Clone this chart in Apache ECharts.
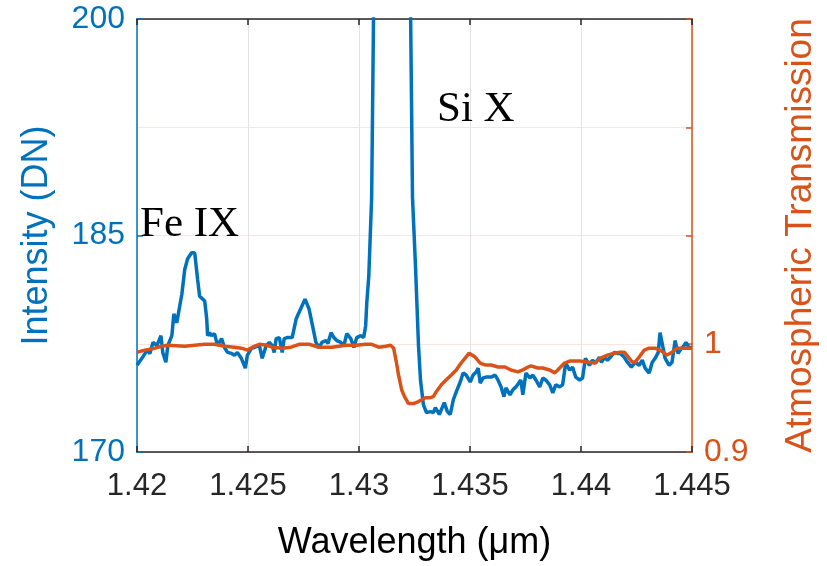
<!DOCTYPE html>
<html>
<head>
<meta charset="utf-8">
<script src="https://cdn.jsdelivr.net/npm/echarts@6/dist/echarts.min.js"></script>
<style>html,body{margin:0;padding:0;background:#fff}#c{width:827px;height:566px}</style>
</head>
<body>
<div id="c"></div>
<script>
// Wavelength (µm) and intensity (DN) of the spectrum
const blueX = [1.42000,1.42022,1.42045,1.42058,1.42072,1.42090,1.42108,1.42116,1.42130,1.42139,1.42157,1.42166,1.42179,1.42188,1.42202,1.42215,1.42228,1.42246,1.42260,1.42273,1.42282,1.42305,1.42314,1.42318,1.42327,1.42336,1.42349,1.42363,1.42381,1.42394,1.42408,1.42426,1.42439,1.42452,1.42470,1.42488,1.42497,1.42515,1.42529,1.42551,1.42564,1.42582,1.42596,1.42609,1.42618,1.42627,1.42641,1.42654,1.42663,1.42676,1.42699,1.42717,1.42739,1.42757,1.42775,1.42788,1.42806,1.42820,1.42833,1.42851,1.42860,1.42874,1.42887,1.42900,1.42918,1.42932,1.42945,1.42963,1.42977,1.42990,1.43008,1.43021,1.43030,1.43035,1.43044,1.43057,1.43066,1.43080,1.43111,1.43142,1.43178,1.43205,1.43232,1.43241,1.43254,1.43268,1.43277,1.43290,1.43304,1.43322,1.43335,1.43344,1.43362,1.43371,1.43384,1.43398,1.43411,1.43425,1.43438,1.43456,1.43469,1.43483,1.43501,1.43514,1.43528,1.43537,1.43546,1.43559,1.43572,1.43595,1.43613,1.43626,1.43640,1.43653,1.43662,1.43680,1.43693,1.43707,1.43729,1.43738,1.43752,1.43770,1.43783,1.43797,1.43814,1.43828,1.43841,1.43859,1.43873,1.43886,1.43904,1.43917,1.43931,1.43949,1.43962,1.43976,1.43994,1.44007,1.44020,1.44038,1.44052,1.44065,1.44083,1.44092,1.44106,1.44119,1.44132,1.44150,1.44164,1.44177,1.44195,1.44209,1.44227,1.44244,1.44262,1.44276,1.44289,1.44307,1.44321,1.44334,1.44348,1.44356,1.44370,1.44379,1.44397,1.44410,1.44424,1.44437,1.44446,1.44464,1.44473,1.44486,1.44500];
const intensity = [176.01,176.49,177.04,176.83,177.59,177.38,178.06,176.90,176.22,177.38,178.06,179.57,178.95,178.95,180.93,182.64,183.39,183.80,183.80,181.96,180.80,180.46,179.23,178.06,178.27,178.06,178.20,177.38,177.86,177.24,176.90,176.83,176.70,176.90,176.49,175.81,176.70,177.18,177.24,177.38,176.49,177.38,177.59,177.38,176.90,177.86,177.93,176.90,177.86,177.93,177.93,179.23,179.98,180.59,179.91,178.95,177.59,177.24,177.59,177.72,177.52,178.27,177.93,177.72,177.59,177.38,178.20,177.86,177.24,177.93,178.06,177.93,178.75,180.32,182.16,187.63,201.0,212.0,225.0,232.0,228.0,215.0,201.0,187.63,183.05,177.38,174.99,173.28,172.73,172.80,172.73,173.08,172.60,172.94,173.42,172.80,172.60,173.62,174.17,174.85,175.47,175.33,174.85,175.33,175.54,175.81,174.78,175.13,175.19,175.19,175.33,174.99,174.51,173.83,174.44,173.96,174.31,174.51,174.99,173.96,175.47,175.13,175.33,174.99,174.51,175.13,174.99,174.65,174.10,174.65,174.51,174.65,176.15,175.67,175.88,175.19,174.99,175.13,176.49,176.01,176.36,176.15,176.56,176.22,176.56,176.36,176.56,176.90,176.83,176.83,176.56,176.22,175.88,176.22,176.01,176.36,175.81,175.47,176.22,176.49,176.90,178.27,177.18,176.49,176.01,176.22,177.72,176.83,177.04,177.38,177.59,177.24,177.24];

// Wavelength (µm) and atmospheric transmission
const orangeX = [1.42000,1.42036,1.42081,1.42112,1.42139,1.42215,1.42260,1.42305,1.42349,1.42394,1.42439,1.42470,1.42497,1.42520,1.42551,1.42587,1.42609,1.42654,1.42694,1.42730,1.42775,1.42820,1.42878,1.42941,1.42986,1.43030,1.43057,1.43089,1.43120,1.43142,1.43156,1.43169,1.43178,1.43192,1.43205,1.43223,1.43245,1.43268,1.43299,1.43322,1.43335,1.43348,1.43371,1.43393,1.43416,1.43438,1.43460,1.43478,1.43496,1.43505,1.43523,1.43546,1.43568,1.43595,1.43626,1.43658,1.43684,1.43716,1.43738,1.43761,1.43774,1.43805,1.43828,1.43859,1.43882,1.43904,1.43926,1.43949,1.43994,1.44029,1.44061,1.44088,1.44119,1.44150,1.44177,1.44195,1.44213,1.44231,1.44244,1.44262,1.44285,1.44307,1.44334,1.44356,1.44388,1.44410,1.44433,1.44469,1.44500];
const transmission = [0.9922,0.9941,0.9959,0.9977,0.9986,0.9977,0.9986,0.9995,0.9995,0.9977,0.9968,0.9959,0.9941,0.9968,0.9995,0.9986,0.9968,0.9959,0.9968,0.9995,0.9995,0.9968,0.9968,0.9986,0.9986,0.9995,0.9995,0.9968,0.9977,0.9986,0.9959,0.9822,0.9712,0.9575,0.9511,0.9447,0.9447,0.9466,0.9502,0.9502,0.9511,0.9557,0.9621,0.9667,0.9712,0.9758,0.9822,0.9868,0.9913,0.9913,0.9877,0.9822,0.9804,0.9804,0.9785,0.9785,0.9758,0.9740,0.9758,0.9785,0.9795,0.9776,0.9776,0.9758,0.9731,0.9776,0.9822,0.9840,0.9840,0.9831,0.9822,0.9868,0.9895,0.9913,0.9922,0.9922,0.9877,0.9831,0.9831,0.9877,0.9941,0.9959,0.9959,0.9941,0.9895,0.9922,0.9959,0.9959,0.9959];

const rightTickLabels = {'0.9': '0.9', '1': '1'};
const annotations = [
  {text: 'Fe IX', x: 140, y: 235},
  {text: 'Si X', x: 437, y: 120}
];

const BLUE = '#0072BD', ORANGE = '#D95319', DARK = '#262626';
const FONT = 'Liberation Sans';

const chart = echarts.init(document.getElementById('c'), null, {renderer: 'canvas'});
const xCommon = {
  type: 'value', min: 1.42, max: 1.445, interval: 0.005
};
chart.setOption({
  animation: false,
  backgroundColor: '#fff',
  grid: {left: 137, right: 132, top: 19, bottom: 108, containLabel: false},
  xAxis: [
    Object.assign({}, xCommon, {
      position: 'bottom',
      name: 'Wavelength (μm)', nameLocation: 'middle', nameGap: 73,
      nameTextStyle: {color: '#000', fontSize: 36, fontFamily: FONT},
      axisLine: {show: true, onZero: false, lineStyle: {color: DARK, width: 1.5}},
      axisTick: {show: true, inside: true, length: 6, lineStyle: {color: DARK, width: 1.5}},
      axisLabel: {color: DARK, fontSize: 31, fontFamily: FONT, margin: 19,
        formatter: v => String(+v.toFixed(3))},
      splitLine: {show: true, lineStyle: {color: '#e3e3e3', width: 1}}
    }),
    Object.assign({}, xCommon, {
      position: 'top',
      axisLine: {show: true, onZero: false, lineStyle: {color: DARK, width: 1.5}},
      axisTick: {show: true, inside: true, length: 6, lineStyle: {color: DARK, width: 1.5}},
      axisLabel: {show: false},
      splitLine: {show: false}
    })
  ],
  yAxis: [
    {
      type: 'value', min: 170, max: 200, interval: 15, position: 'left',
      name: 'Intensity (DN)', nameLocation: 'middle', nameGap: 82,
      nameTextStyle: {color: BLUE, fontSize: 36, fontFamily: FONT},
      axisLine: {show: true, onZero: false, lineStyle: {color: BLUE, width: 1.5}},
      axisTick: {show: true, inside: true, length: 6, lineStyle: {color: BLUE, width: 1.5}},
      axisLabel: {color: BLUE, fontSize: 32, fontFamily: FONT, margin: 12,
        padding: [6, 0, 0, 0]},
      splitLine: {show: false}
    },
    {
      type: 'value', min: 0.9, max: 1.3, interval: 0.1, position: 'right',
      name: 'Atmospheric Transmission', nameLocation: 'middle', nameGap: 90,
      nameTextStyle: {color: ORANGE, fontSize: 37, fontFamily: FONT},
      axisLine: {show: true, onZero: false, lineStyle: {color: ORANGE, width: 1.5}},
      axisTick: {show: true, inside: true, length: 6, lineStyle: {color: ORANGE, width: 1.5}},
      axisLabel: {color: ORANGE, fontSize: 32, fontFamily: FONT, margin: 12,
        padding: [6, 0, 0, 0],
        formatter: v => rightTickLabels[String(+v.toFixed(2))] || ''},
      splitLine: {show: true, lineStyle: {color: '#fae6df', width: 1}}
    }
  ],
  series: [
    {
      type: 'line', name: 'Intensity', xAxisIndex: 0, yAxisIndex: 0,
      data: blueX.map((x, i) => [x, intensity[i]]),
      showSymbol: false, clip: true,
      lineStyle: {color: BLUE, width: 3.5}, itemStyle: {color: BLUE}
    },
    {
      type: 'line', name: 'Transmission', xAxisIndex: 0, yAxisIndex: 1,
      data: orangeX.map((x, i) => [x, transmission[i]]),
      showSymbol: false, clip: true,
      lineStyle: {color: ORANGE, width: 3.5}, itemStyle: {color: ORANGE}
    }
  ],
  graphic: annotations.map(a => ({
    type: 'text', left: a.x, top: a.y - 32, z: 100,
    style: {text: a.text, fill: '#000', font: '43px "Liberation Serif"'}
  }))
});
</script>
</body>
</html>
